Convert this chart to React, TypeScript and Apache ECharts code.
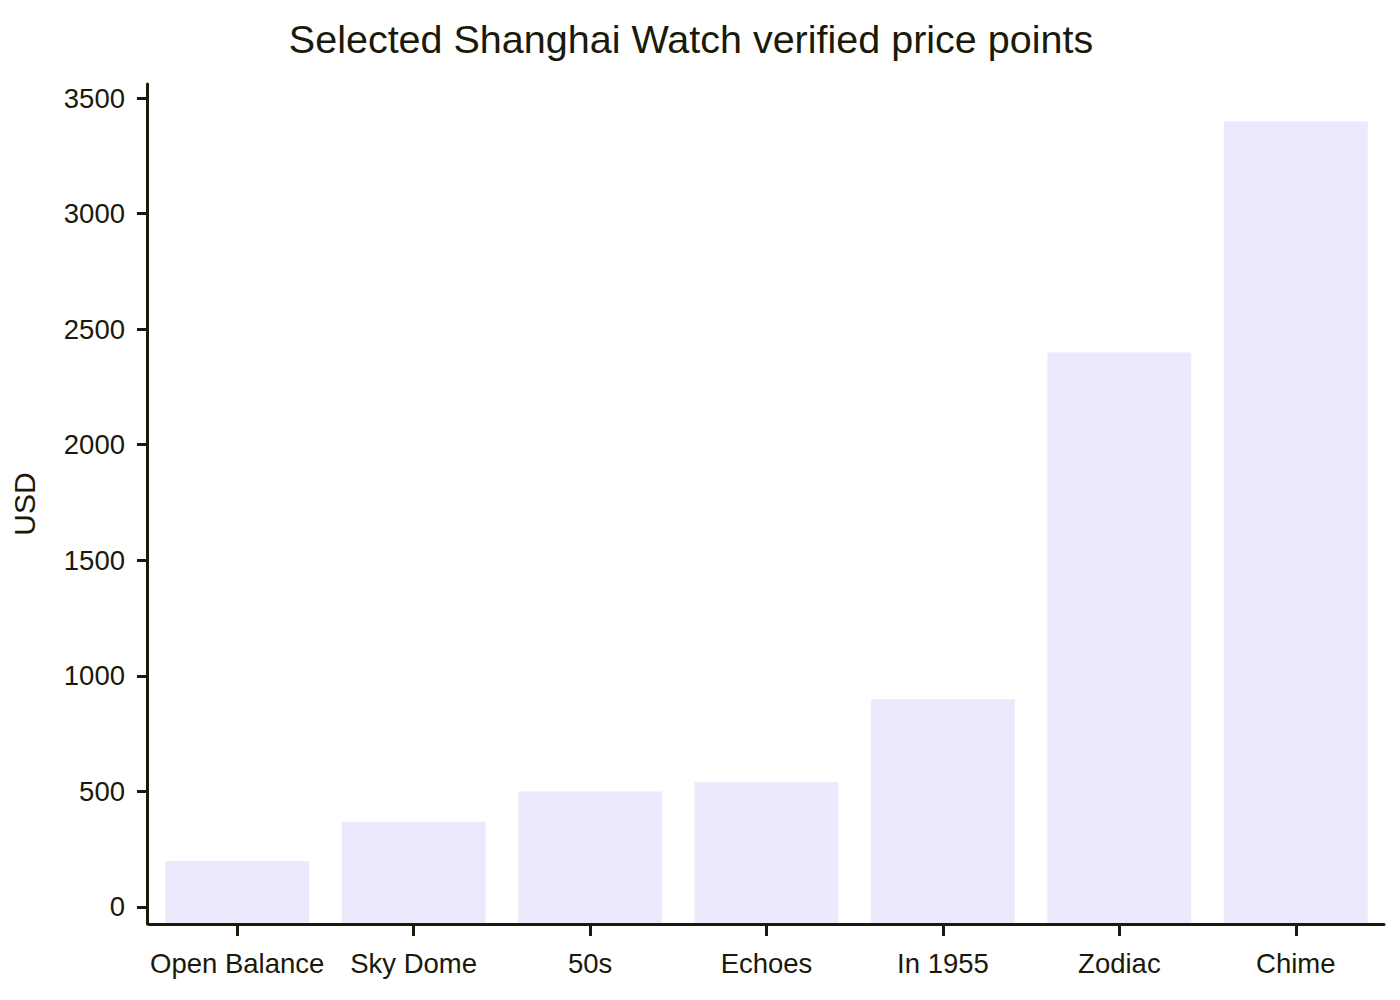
import React, { useEffect, useRef } from 'react'
import * as echarts from 'echarts'

// models and their verified prices (USD)
const models = ['Open Balance', 'Sky Dome', '50s', 'Echoes', 'In 1955', 'Zodiac', 'Chime']
const prices = [199, 369, 499, 539, 899, 2399, 3399]

// y axis tick labels and range (axis runs a little below 0 and above 3500)
const yTicks = [0, 500, 1000, 1500, 2000, 2500, 3000, 3500]
const yMin = -74
const yMax = 3561

const ink = '#1a1a0a'
const barColor = '#ebeafc'
const font = 'Liberation Sans, Arial, sans-serif'

export default function App() {
  const chartRef = useRef<HTMLDivElement>(null)

  useEffect(() => {
    if (!chartRef.current) return
    document.body.style.margin = '0'
    const chart = echarts.init(chartRef.current, null, { renderer: 'svg' })

    const option = {
      animation: false,
      backgroundColor: '#ffffff',
      title: {
        text: 'Selected Shanghai Watch verified price points',
        left: 686,
        textAlign: 'center',
        top: 14,
        textStyle: { color: ink, fontSize: 39.5, fontWeight: 'normal', fontFamily: font },
      },
      grid: { left: 149, right: 16, top: 84, bottom: 76, containLabel: false },
      xAxis: {
        type: 'category',
        data: models,
        boundaryGap: true,
        z: 5,
        axisLine: { onZero: false, lineStyle: { color: ink, width: 3 } },
        axisTick: { show: true, alignWithLabel: true, length: 12, lineStyle: { color: ink, width: 3 } },
        axisLabel: { color: ink, fontSize: 27.5, fontFamily: font, margin: 25, interval: 0 },
        splitLine: { show: false },
      },
      yAxis: {
        type: 'value',
        min: yMin,
        max: yMax,
        offset: 2,
        z: 5,
        name: 'USD',
        nameLocation: 'middle',
        nameRotate: 90,
        nameGap: 108,
        nameTextStyle: { color: ink, fontSize: 30, fontFamily: font },
        axisLine: { show: true, lineStyle: { color: ink, width: 3 } },
        axisTick: { show: true, length: 10, customValues: yTicks, lineStyle: { color: ink, width: 3 } },
        axisLabel: {
          color: ink,
          fontSize: 27.5,
          fontFamily: font,
          margin: 22,
          customValues: yTicks,
          formatter: (v: number) => String(v),
        },
        splitLine: { show: false },
      },
      series: [
        {
          type: 'custom',
          name: 'Price',
          z: 1,
          data: prices.map((p, i) => [i, p]),
          renderItem: (params: any, api: any) => {
            const idx = api.value(0)
            const top = api.coord([idx, api.value(1)])
            const base = api.coord([idx, yMin])
            const w = api.size([1, 0])[0] * 0.816
            return {
              type: 'rect',
              shape: { x: top[0] - w / 2, y: top[1], width: w, height: base[1] - top[1] },
              style: { fill: barColor },
            }
          },
        },
      ],
    }

    chart.setOption(option as any)
    return () => {
      chart.dispose()
    }
  }, [])

  return <div ref={chartRef} style={{ width: 1400, height: 1000 }} />
}
